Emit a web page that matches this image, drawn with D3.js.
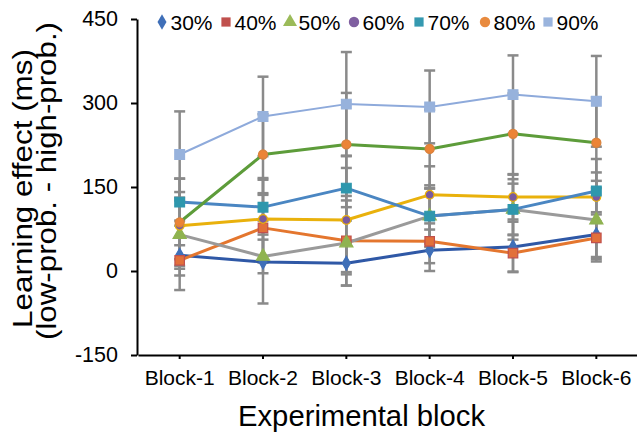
<!DOCTYPE html>
<html><head><meta charset="utf-8">
<script src="https://cdn.jsdelivr.net/npm/d3@7"></script>
<style>html,body{margin:0;padding:0;background:#fff;}svg{display:block;font-family:"Liberation Sans",Arial,sans-serif;}</style>
</head><body>
<svg id="c" width="637" height="436"></svg>
<script>
const categories = ["Block-1","Block-2","Block-3","Block-4","Block-5","Block-6"];
const seriesNames = ["30%","40%","50%","60%","70%","80%","90%"];
const yTicks = [-150, 0, 150, 300, 450];
const s30 = [28, 16, 14, 37, 43, 65];
const s40 = [19, 77, 54, 53, 32, 59];
const s50 = [65, 26, 50, 98, 110, 91];
const s60 = [81, 93, 91, 136, 132, 132];
const s70 = [123, 114, 148, 98, 110, 143];
const s80 = [87, 208, 226, 218, 245, 229];
const s90 = [208, 276, 298, 293, 315, 303];
const e30 = [62, 74, 40, 37, 45, 40];
const e40 = [27, 62, 60, 39, 33, 42];
const e50 = [61, 30, 76, 55, 54, 70];
const e60 = [60, 73, 93, 51, 40, 44];
const e70 = [42, 49, 58, 49, 46, 57];
const e80 = [78, 72, 92, 70, 72, 81];
const e90 = [77, 71, 93, 65, 70, 81];

const values = [s30, s40, s50, s60, s70, s80, s90];
const errors = [e30, e40, e50, e60, e70, e80, e90];
const styles = [
  {line:"#2f58a6", lw:3,   shape:d3.symbolDiamond, size:55, fill:"#3f6fb8", stroke:"#3f6fb8", legend:"#3f6fb8"},
  {line:"#e4762e", lw:3,   shape:d3.symbolSquare,  size:90, fill:"#e2703a", stroke:"#c0504d", legend:"#c0504d"},
  {line:"#9a9a9a", lw:3,   shape:d3.symbolTriangle,size:75, fill:"#8fb350", stroke:"#8fb350", legend:"#9bbb59"},
  {line:"#e9b10c", lw:3,   shape:d3.symbolCircle,  size:60, fill:"#7a5a9e", stroke:"#e9b10c", legend:"#7f5fa0"},
  {line:"#4a86c2", lw:3,   shape:d3.symbolSquare,  size:95, fill:"#2e97ad", stroke:"#2e97ad", legend:"#3599b0"},
  {line:"#5d9c3a", lw:3,   shape:d3.symbolCircle,  size:65, fill:"#ec8436", stroke:"#d9823c", legend:"#e88a3e"},
  {line:"#8eaadb", lw:2,   shape:d3.symbolSquare,  size:95, fill:"#97b2dc", stroke:"#97b2dc", legend:"#9ab4dd"}
];

const svg = d3.select("#c");
const x = d3.scaleBand().domain(categories).range([138, 638]).padding(0);
const y = d3.scaleLinear().domain([-150, 450]).range([355, 19]);
const cx = c => x(c) + x.bandwidth() / 2;

// error bars
const eb = svg.append("g").attr("stroke", "#8a8a8a").attr("stroke-width", 2.5);
values.forEach((vals, si) => {
  vals.forEach((v, i) => {
    const X = cx(categories[i]);
    const lo = v - errors[si][i], hi = v + errors[si][i];
    eb.append("line").attr("x1", X).attr("x2", X).attr("y1", y(lo)).attr("y2", y(hi));
    [lo, hi].forEach(e => eb.append("line").attr("x1", X - 5.5).attr("x2", X + 5.5).attr("y1", y(e)).attr("y2", y(e)));
  });
});

// lines
const line = d3.line().x((d, i) => cx(categories[i])).y(d => y(d));
values.forEach((vals, si) => {
  svg.append("path").datum(vals).attr("d", line).attr("fill", "none")
    .attr("stroke", styles[si].line).attr("stroke-width", styles[si].lw).attr("stroke-linejoin", "round");
});
// markers
values.forEach((vals, si) => {
  const st = styles[si];
  svg.append("g").selectAll("path").data(vals).join("path")
    .attr("d", d3.symbol().type(st.shape).size(st.size))
    .attr("transform", (d, i) => `translate(${cx(categories[i])},${y(d)})`)
    .attr("fill", st.fill).attr("stroke", st.stroke).attr("stroke-width", 1.2);
});

// axes
const yAxis = svg.append("g").attr("transform", "translate(137,0)")
  .call(d3.axisLeft(y).tickValues(yTicks).tickFormat(d => String(d)).tickSize(6).tickSizeOuter(0).tickPadding(13));
yAxis.select(".domain").attr("stroke", "#000").attr("stroke-width", 2);
yAxis.selectAll(".tick line").attr("stroke", "#000").attr("stroke-width", 2);
yAxis.selectAll("text").attr("font-size", 21.5).attr("fill", "#000").attr("font-family", "Liberation Sans, Arial");

const xAxis = svg.append("g").attr("transform", "translate(0,355)")
  .call(d3.axisBottom(x).tickSize(4).tickSizeOuter(0).tickPadding(11));
xAxis.select(".domain").attr("stroke", "#000").attr("stroke-width", 2);
xAxis.selectAll(".tick line").attr("stroke", "#000").attr("stroke-width", 2);
xAxis.selectAll("text").attr("font-size", 21).attr("fill", "#000").attr("font-family", "Liberation Sans, Arial");

// axis titles
svg.append("text").attr("x", 361.5).attr("y", 426).attr("text-anchor", "middle")
  .attr("font-size", 29).attr("fill", "#000")
  .attr("textLength", 247).attr("lengthAdjust", "spacingAndGlyphs").text("Experimental block");
svg.append("text").attr("transform", "translate(32,188.5) rotate(-90)").attr("text-anchor", "middle")
  .attr("font-size", 27.5).attr("fill", "#000")
  .attr("textLength", 279).attr("lengthAdjust", "spacingAndGlyphs").text("Learning effect (ms)");
svg.append("text").attr("transform", "translate(56,181) rotate(-90)").attr("text-anchor", "middle")
  .attr("font-size", 27.5).attr("fill", "#000")
  .attr("textLength", 318).attr("lengthAdjust", "spacingAndGlyphs").text("(low-prob. - high-prob.)");

// legend
const legX = [162, 226, 290, 354, 419, 485, 548];
const leg = svg.append("g");
seriesNames.forEach((n, i) => {
  const st = styles[i];
  leg.append("path").attr("d", d3.symbol().type(st.shape).size(st.shape === d3.symbolDiamond ? 70 : 85)())
    .attr("transform", `translate(${legX[i]},22)`).attr("fill", st.legend);
  leg.append("text").attr("x", legX[i] + 8.5).attr("y", 29.5).attr("font-size", 21).attr("fill", "#000").text(n);
});
</script>
</body></html>
